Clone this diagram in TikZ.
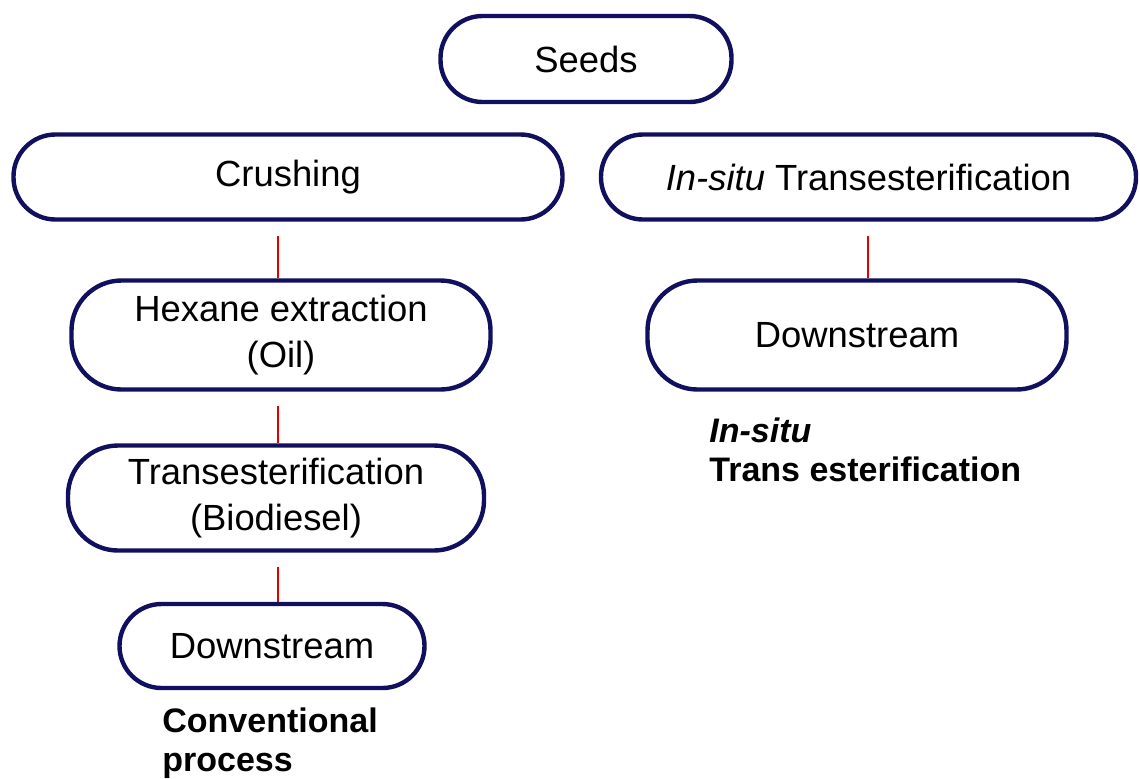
\documentclass[tikz,border=0pt]{standalone}
\usepackage{fontspec}
\setmainfont{Liberation Sans}
\definecolor{navy}{HTML}{10105E}
\tikzset{
  box/.style={draw=navy, line width=2.2pt, rounded corners=21pt, align=center, inner sep=0pt,
     font=\fontsize{18.2}{23}\selectfont, text=black},
  conn/.style={draw=red!90!black, line width=0.7pt, shorten <=7pt},
  lab/.style={anchor=north west, align=left, inner sep=0pt, font=\fontsize{17}{19.5}\selectfont\bfseries}
}
\begin{document}
\begin{tikzpicture}[x=0.5pt,y=-0.5pt]
\useasboundingbox (0,0) rectangle (1140,778);
\node[box, minimum width=145.5pt, minimum height=43pt] (seeds) at (586,59) {Seeds};
\node[box, minimum width=274.5pt, minimum height=42.5pt] (crush) at (288,177) {Crushing};
\node[box, minimum width=267.5pt, minimum height=42.5pt] (insitu) at (868.5,177) {\textit{In-situ} Transesterification};
\node[box, minimum width=209.5pt, minimum height=54.5pt, rounded corners=25pt] (hex) at (281,335) {Hexane extraction\\(Oil)};
\node[box, minimum width=209.5pt, minimum height=54.5pt, rounded corners=25pt] (dsr) at (857,335) {Downstream};
\node[box, minimum width=208pt, minimum height=52.5pt, rounded corners=25pt] (trans) at (276,498) {Transesterification\\(Biodiesel)};
\node[box, minimum width=152.5pt, minimum height=42pt] (dsl) at (272,646) {Downstream};
\draw[conn] (crush.south -| 278,0) -- (hex.north -| 278,0);
\draw[conn] (hex.south -| 278,0) -- (trans.north -| 278,0);
\draw[conn] (trans.south -| 278,0) -- (dsl.north -| 278,0);
\draw[conn] (insitu.south -| 868,0) -- (dsr.north -| 868,0);
\node[lab] (conv) at (162,707) {Conventional\\process};
\node[lab] (insitulab) at (709,417) {\textit{In-situ}\\Trans esterification};
\end{tikzpicture}
\end{document}
